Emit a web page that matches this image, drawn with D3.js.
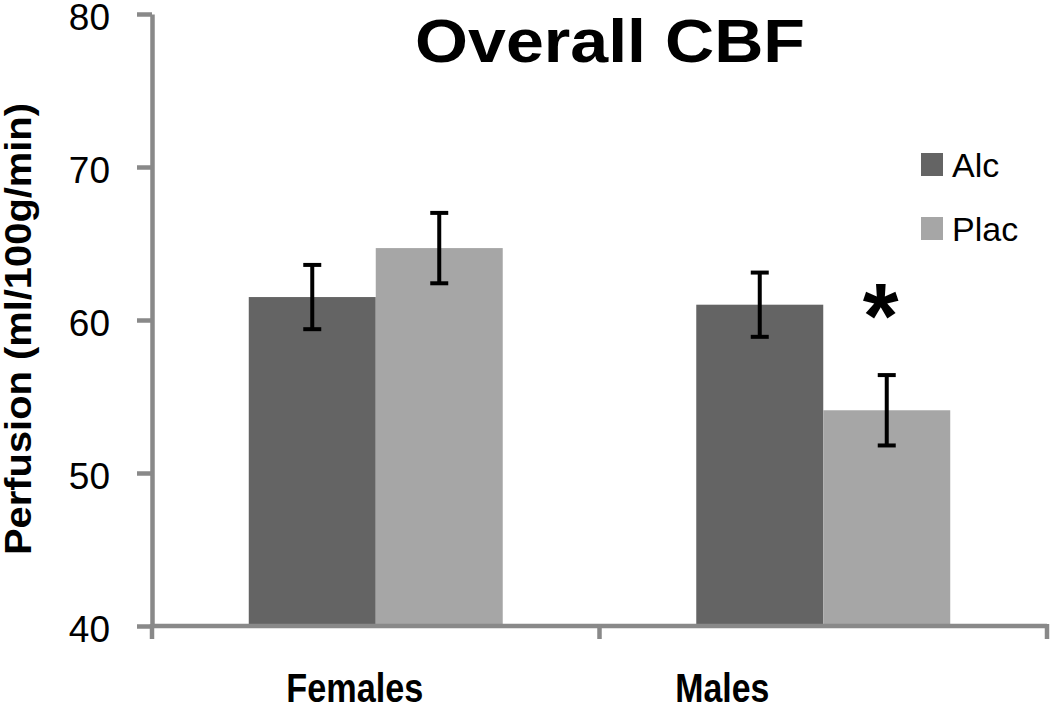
<!DOCTYPE html>
<html><head><meta charset="utf-8">
<script src="https://cdn.jsdelivr.net/npm/d3@7"></script>
<style>body{margin:0;background:#fff}svg{display:block;font-family:"Liberation Sans",Arial,sans-serif}</style>
</head><body><svg id="c" width="1050" height="705"></svg>
<script>
const categories = ["Females", "Males"];
const seriesNames = ["Alc", "Plac"];
const alcValues = [61.5, 61.0];
const placValues = [64.7, 54.1];
const alcErrors = [2.1, 2.1];
const placErrors = [2.3, 2.3];
const yTicks = [40, 50, 60, 70, 80];
const significance = ["", "*"]; // marker over Plac bar per category
const title = "Overall CBF";
const yLabel = "Perfusion (ml/100g/min)";

(function () {
const colors = {Alc: "#646464", Plac: "#a6a6a6"};
const axisColor = "#898989";

const data = [];
categories.forEach((c, i) => {
  data.push({cat: c, s: "Alc", v: alcValues[i], e: alcErrors[i]});
  data.push({cat: c, s: "Plac", v: placValues[i], e: placErrors[i]});
});

const svg = d3.select("#c");
const mLeft = 152, mRight = 1047, mTop = 14, mBottom = 626;

const y = d3.scaleLinear().domain([40, 80]).range([mBottom, mTop]);
const x0 = d3.scaleBand().domain(categories).range([mLeft, mRight]).padding(0);
const x1 = d3.scaleBand().domain(seriesNames).range([0, x0.bandwidth()]).paddingInner(0).paddingOuter(0.762);

// bars
svg.append("g").selectAll("rect").data(data).join("rect")
  .attr("x", d => x0(d.cat) + x1(d.s))
  .attr("y", d => y(d.v))
  .attr("width", x1.bandwidth())
  .attr("height", d => y(40) - y(d.v))
  .attr("fill", d => colors[d.s]);

// error bars
const eg = svg.append("g").attr("stroke", "#000").attr("stroke-width", 4);
data.forEach(d => {
  const cx = x0(d.cat) + x1(d.s) + x1.bandwidth() / 2;
  eg.append("line").attr("x1", cx).attr("x2", cx).attr("y1", y(d.v + d.e)).attr("y2", y(d.v - d.e));
  eg.append("line").attr("x1", cx - 9).attr("x2", cx + 9).attr("y1", y(d.v + d.e)).attr("y2", y(d.v + d.e));
  eg.append("line").attr("x1", cx - 9).attr("x2", cx + 9).attr("y1", y(d.v - d.e)).attr("y2", y(d.v - d.e));
});

// y axis
const yAxis = d3.axisLeft(y).tickValues(yTicks).tickSize(15).tickPadding(27).tickSizeOuter(0);
const gy = svg.append("g").attr("transform", `translate(${mLeft},0)`).call(yAxis);
gy.select(".domain").attr("stroke", axisColor).attr("stroke-width", 4.5);
gy.selectAll(".tick line").attr("stroke", axisColor).attr("stroke-width", 4.5);
gy.selectAll(".tick text").attr("font-size", 37).attr("fill", "#000").attr("font-family", "Liberation Sans, Arial, sans-serif").attr("dy", "0.43em");

// x axis
const xTickPos = [mLeft].concat(categories.map(c => x0(c) + x0.bandwidth()));
const gx = svg.append("g");
gx.append("line").attr("x1", mLeft).attr("x2", mRight).attr("y1", mBottom).attr("y2", mBottom)
  .attr("stroke", axisColor).attr("stroke-width", 4.5);
gx.selectAll("line.t").data(xTickPos).join("line").attr("class", "t")
  .attr("x1", d => d).attr("x2", d => d).attr("y1", mBottom - 2).attr("y2", mBottom + 13)
  .attr("stroke", axisColor).attr("stroke-width", 4.5);

// category labels
const labelShift = [-21, -101];
svg.append("g").selectAll("text").data(categories).join("text")
  .attr("x", (d, i) => x0(d) + x0.bandwidth() / 2 + labelShift[i])
  .attr("y", 702)
  .attr("text-anchor", "middle")
  .attr("font-weight", "bold").attr("font-size", 40)
  .attr("textLength", (d, i) => i === 0 ? 137 : 94)
  .attr("lengthAdjust", "spacingAndGlyphs")
  .text(d => d);

// title
svg.append("text").attr("x", 610).attr("y", 62).attr("text-anchor", "middle")
  .attr("font-weight", "bold").attr("font-size", 62)
  .attr("textLength", 390).attr("lengthAdjust", "spacingAndGlyphs").text(title);

// y label
svg.append("text").attr("transform", "translate(31,329) rotate(-90)").attr("text-anchor", "middle")
  .attr("font-weight", "bold").attr("font-size", 37)
  .attr("textLength", 452).attr("lengthAdjust", "spacingAndGlyphs").text(yLabel);

// significance star
categories.forEach((c, i) => {
  if (!significance[i]) return;
  const cx = x0(c) + x1("Plac") + x1.bandwidth() / 2;
  svg.append("text").attr("x", cx - 6).attr("y", 348).attr("text-anchor", "middle")
    .attr("font-weight", "bold").attr("font-size", 92).text(significance[i]);
});

// legend
const lg = svg.append("g");
seriesNames.forEach((s, i) => {
  const yy = 153 + i * 64;
  lg.append("rect").attr("x", 921).attr("y", yy).attr("width", 22).attr("height", 23).attr("fill", colors[s]);
  lg.append("text").attr("x", 952).attr("y", yy + 24).attr("font-size", 34).text(s);
});
})();
</script></body></html>
